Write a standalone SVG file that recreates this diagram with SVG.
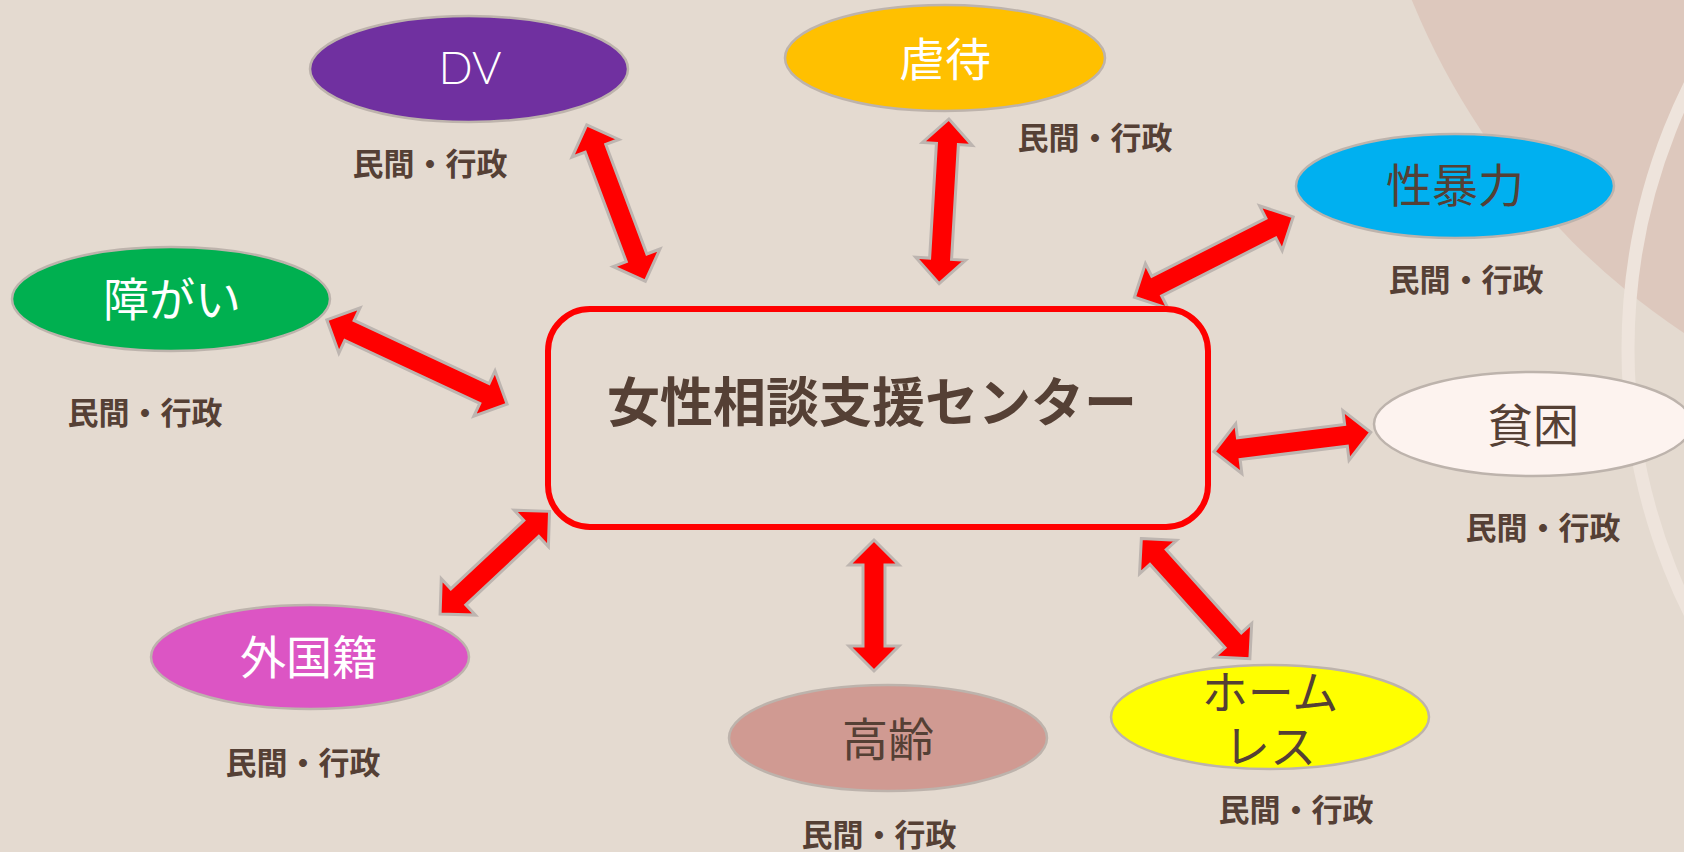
<svg xmlns="http://www.w3.org/2000/svg" width="1684" height="852" viewBox="0 0 1684 852">
<style>
.ell{stroke:#BDB3AC;stroke-width:2.5}
.arr{fill:#FF0000;stroke:#BDB5B0;stroke-width:3;stroke-linejoin:miter}
.nt{font-family:"Noto Sans CJK JP","Noto Sans",sans-serif;font-size:46px;text-anchor:middle}
.lbl{font-family:"Noto Sans CJK JP","Noto Sans",sans-serif;font-size:31px;font-weight:700;fill:#554035;text-anchor:middle}
.w{fill:#FFFFFF}
.d{fill:#554035}
</style>
<rect x="0" y="0" width="1684" height="852" fill="#E4DAD0"/>
<circle cx="2088" cy="-275" r="730" fill="#DDC8BD"/>
<circle cx="2223" cy="349" r="595" fill="none" stroke="#EEE4DC" stroke-width="13"/>

<g id="connectors">
<path class="arr" transform="translate(586,123) rotate(69.44)" d="M2,0 L27,-25 L27,-11 L144,-11 L144,-25 L169,0 L144,25 L144,11 L27,11 L27,25 Z"/>
<path class="arr" transform="translate(949,117) rotate(93.39)" d="M2,0 L27,-25 L27,-11 L142,-11 L142,-25 L167,0 L142,25 L142,11 L27,11 L27,25 Z"/>
<path class="arr" transform="translate(1295,216) rotate(153.15)" d="M2,0 L27,-25 L27,-11 L155,-11 L155,-25 L180,0 L155,25 L155,11 L27,11 L27,25 Z"/>
<path class="arr" transform="translate(325,319) rotate(25.05)" d="M2,0 L27,-25 L27,-11 L176,-11 L176,-25 L201,0 L176,25 L176,11 L27,11 L27,25 Z"/>
<path class="arr" transform="translate(1212,452) rotate(-7.08)" d="M2,0 L27,-25 L27,-11 L135,-11 L135,-25 L160,0 L135,25 L135,11 L27,11 L27,25 Z"/>
<path class="arr" transform="translate(551,510) rotate(136.85)" d="M2,0 L27,-25 L27,-11 L127,-11 L127,-25 L152,0 L127,25 L127,11 L27,11 L27,25 Z"/>
<path class="arr" transform="translate(874,538) rotate(90)" d="M2,0 L27,-25 L27,-11 L108,-11 L108,-25 L133,0 L108,25 L108,11 L27,11 L27,25 Z"/>
<path class="arr" transform="translate(1140,537) rotate(47.93)" d="M2,0 L27,-25 L27,-11 L139,-11 L139,-25 L164,0 L139,25 L139,11 L27,11 L27,25 Z"/>
</g>

<g id="center">
<rect x="548" y="309" width="660" height="218" rx="42" ry="42" fill="none" stroke="#FF0000" stroke-width="6"/>
<text x="872" y="422" font-family="Noto Sans CJK JP, Noto Sans, sans-serif" font-size="53" font-weight="700" fill="#554035" text-anchor="middle">女性相談支援センター</text>
</g>

<g id="dv">
<ellipse class="ell" cx="469" cy="69" rx="159" ry="53" fill="#7030A0"/>
<text x="470" y="84" font-family="Lato, Noto Sans, sans-serif" font-size="45" font-weight="300" fill="#FFFFFF" text-anchor="middle">DV</text>
<text class="lbl" x="430" y="175">民間・行政</text>
</g>

<g id="gyakutai">
<ellipse class="ell" cx="945" cy="58" rx="160" ry="53" fill="#FFC000"/>
<text class="nt w" x="945" y="76">虐待</text>
<text class="lbl" x="1095" y="149">民間・行政</text>
</g>

<g id="seiboryoku">
<ellipse class="ell" cx="1455" cy="186" rx="159" ry="52" fill="#00B0F0"/>
<text class="nt d" x="1455" y="202">性暴力</text>
<text class="lbl" x="1466" y="291">民間・行政</text>
</g>

<g id="shogai">
<ellipse class="ell" cx="171" cy="299" rx="159" ry="52" fill="#00B050"/>
<text class="nt w" x="172" y="316">障がい</text>
<text class="lbl" x="145" y="424">民間・行政</text>
</g>

<g id="hinkon">
<ellipse class="ell" cx="1533" cy="424" rx="159" ry="52" fill="#FDF3EF"/>
<text class="nt d" x="1533" y="442">貧困</text>
<text class="lbl" x="1543" y="539">民間・行政</text>
</g>

<g id="gaikokuseki">
<ellipse class="ell" cx="310" cy="657" rx="159" ry="52" fill="#DC55C4"/>
<text class="nt w" x="309" y="674">外国籍</text>
<text class="lbl" x="303" y="774">民間・行政</text>
</g>

<g id="korei">
<ellipse class="ell" cx="888" cy="738" rx="159" ry="53" fill="#D09A92"/>
<text class="nt d" x="888" y="756">高齢</text>
<text class="lbl" x="879" y="846">民間・行政</text>
</g>

<g id="homeless">
<ellipse class="ell" cx="1270" cy="717" rx="159" ry="52" fill="#FFFF00"/>
<text class="nt d" x="1270" y="709">ホーム</text>
<text class="nt d" x="1270" y="763">レス</text>
<text class="lbl" x="1296" y="821">民間・行政</text>
</g>
</svg>
